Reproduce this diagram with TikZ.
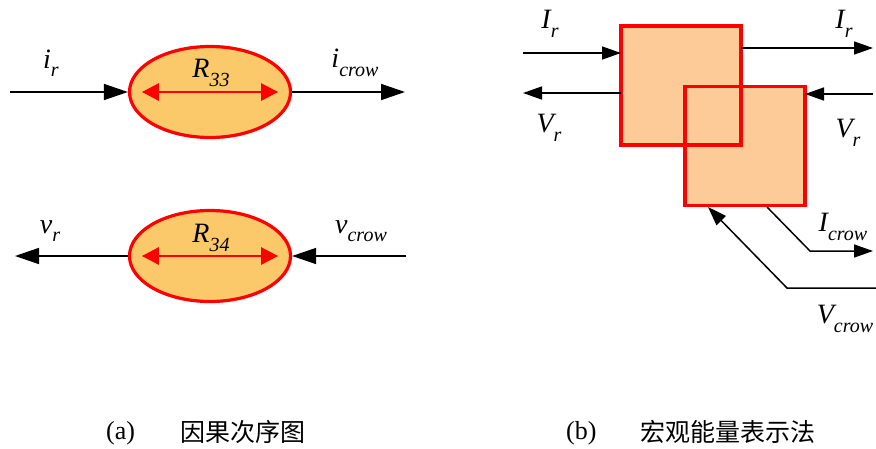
\documentclass[tikz,border=0pt]{standalone}
\usepackage{fontspec}
\setmainfont{Liberation Serif}
\newfontfamily\cjk{Noto Sans CJK SC}
\usetikzlibrary{arrows.meta,shapes.geometric}
\definecolor{ellfill}{HTML}{FCC96A}
\definecolor{boxfill}{HTML}{FCCB98}
\definecolor{myred}{HTML}{FF0000}
\newcommand{\lab}[2]{{\fontsize{28}{28}\selectfont\itshape #1\raisebox{-0.3em}{\fontsize{20}{20}\selectfont #2}}}
\tikzset{
  ell/.style={ellipse, draw=myred, line width=3.2pt, fill=ellfill, minimum width=161pt, minimum height=91pt, inner sep=0pt},
  boxf/.style={rectangle, fill=boxfill, minimum width=120pt, minimum height=119pt, inner sep=0pt, outer sep=0pt},
  redb/.style={draw=myred, line width=3.2pt},
  arrA/.style={line width=1.6pt, -{Triangle[length=24pt,width=16pt]}},
  arrB/.style={line width=1.5pt, -{Triangle[length=19pt,width=13pt]}},
  redarr/.style={myred, line width=2.8pt, {Triangle[length=17pt,width=17pt]}-{Triangle[length=17pt,width=17pt]}},
  lbl/.style={inner sep=0pt, anchor=center},
  captxt/.style={inner sep=0pt, anchor=west}
}
\begin{document}
\begin{tikzpicture}[x=1pt,y=-1pt]
\useasboundingbox (0,0) rectangle (876,448);
% ---- panel (a) ----
\node[ell] (e1) at (210,92) {};
\node[ell] (e2) at (210,256) {};
\draw[redarr] ([xshift=14pt]e1.west) -- ([xshift=-14pt]e1.east);
\draw[redarr] ([xshift=14pt]e2.west) -- ([xshift=-14pt]e2.east);
\node[lbl] (r33) at (211,73) {\lab{R}{33}};
\node[lbl] (r34) at (211,238) {\lab{R}{34}};
\coordinate (ain) at (10,92);
\coordinate (aout) at (405,92);
\draw[arrA] (ain) -- (e1.west);
\draw[arrA] (e1.east) -- (aout);
\coordinate (vout) at (15,256);
\coordinate (vin) at (406,256);
\draw[arrA] (e2.west) -- (vout);
\draw[arrA] (vin) -- (e2.east);
\node[lbl] (lir) at (51,63) {\lab{i}{r}};
\node[lbl] (lic) at (355,63) {\lab{i}{crow}};
\node[lbl] (lvr) at (50,231) {\lab{v}{r}};
\node[lbl] (lvc) at (361,231) {\lab{v}{crow}};
% ---- panel (b) ----
\node[boxf] (b1) at (681,85.5) {};
\node[boxf] (b2) at (745,146) {};
\draw[redb] (b1.south west) rectangle (b1.north east);
\draw[redb] (b2.south west) rectangle (b2.north east);
\coordinate (p1) at (523,53);
\coordinate (p2) at (523,93);
\coordinate (p3) at (873,48);
\coordinate (p4) at (873,94);
\draw[arrB] (p1) -- (p1 -| b1.west);
\draw[arrB] (p2 -| b1.west) -- (p2);
\draw[arrB] (p3 -| b1.east) -- (p3);
\draw[arrB] (p4) -- (p4 -| b2.east);
\coordinate (c1) at (767,207);
\coordinate (c2) at (810,251);
\coordinate (c3) at (873,251);
\draw[arrB] (c1) -- (c2) -- (c3);
\coordinate (d1) at (876,288);
\coordinate (d2) at (787,288);
\coordinate (d3) at (708,207);
\draw[arrB] (d1) -- (d2) -- (d3);
\node[lbl] (lIr1) at (550,24) {\lab{I}{r}};
\node[lbl] (lVr1) at (549,128) {\lab{V}{r}};
\node[lbl] (lIr2) at (844,24) {\lab{I}{r}};
\node[lbl] (lVr2) at (848,133) {\lab{V}{r}};
\node[lbl] (lIc) at (843,227) {\lab{I}{crow}};
\node[lbl] (lVc) at (845,319) {\lab{V}{crow}};
% ---- captions ----
\node[captxt] (ca) at (106,433) {\fontsize{26}{26}\selectfont (a)};
\node[captxt] (cat) at (180,432) {\cjk\fontsize{25}{25}\selectfont 因果次序图};
\node[captxt] (cb) at (566,433) {\fontsize{26}{26}\selectfont (b)};
\node[captxt] (cbt) at (640,432) {\cjk\fontsize{25}{25}\selectfont 宏观能量表示法};
\end{tikzpicture}
\end{document}
